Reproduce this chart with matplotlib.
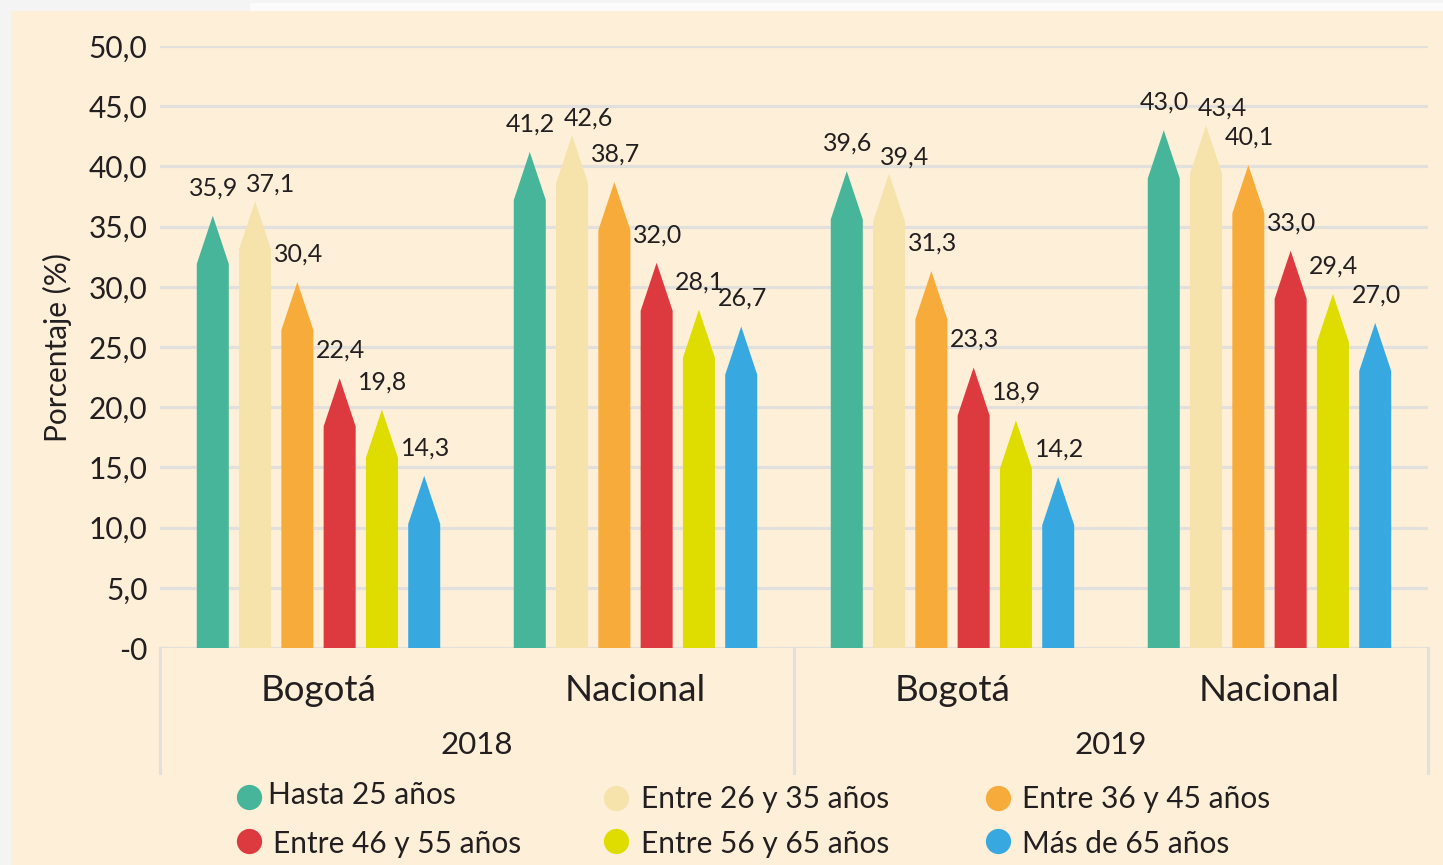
import matplotlib
matplotlib.use("Agg")
import matplotlib.pyplot as plt
from matplotlib.patches import Rectangle
import numpy as np

plt.rcParams['font.family'] = ['Lato', 'DejaVu Sans']

# ---- data ----
categories = ["Bogotá", "Nacional", "Bogotá", "Nacional"]
years = ["2018", "2019"]
series_names = ["Hasta 25 años", "Entre 26 y 35 años", "Entre 36 y 45 años",
                "Entre 46 y 55 años", "Entre 56 y 65 años", "Más de 65 años"]
hasta25 = [35.9, 41.2, 39.6, 43.0]
e26_35 = [37.1, 42.6, 39.4, 43.4]
e36_45 = [30.4, 38.7, 31.3, 40.1]
e46_55 = [22.4, 32.0, 23.3, 33.0]
e56_65 = [19.8, 28.1, 18.9, 29.4]
mas65 = [14.3, 26.7, 14.2, 27.0]
series = [hasta25, e26_35, e36_45, e46_55, e56_65, mas65]
yticks = [0, 5, 10, 15, 20, 25, 30, 35, 40, 45, 50]
ytick_labels = ["-0", "5,0", "10,0", "15,0", "20,0", "25,0", "30,0", "35,0",
                "40,0", "45,0", "50,0"]

colors = ["#46B59A", "#F5E3AB", "#F7AB3A", "#DC3A3F", "#DFDC00", "#38A9E0"]
TXT = "#231F20"
GRID = "#E2E0DD"
W, H = 1443, 865

fig = plt.figure(figsize=(W / 100, H / 100), dpi=100, facecolor="#F4F4F4")

# background overlay in pixel coordinates
bg = fig.add_axes([0, 0, 1, 1], zorder=0)
bg.set_xlim(0, W)
bg.set_ylim(H, 0)
bg.axis("off")
bg.add_patch(Rectangle((250, 3), W - 250, 10, facecolor="#FBFBFB", edgecolor="none"))
bg.add_patch(Rectangle((11, 11), W - 11, H - 11, facecolor="#FEEFD8", edgecolor="none"))

# main axes
ax = fig.add_axes([160 / W, (H - 648) / H, 1268 / W, 602 / H], zorder=1)
ax.set_facecolor("none")
ax.set_xlim(-0.5, 3.5)
ax.set_ylim(0, 50)
for s in ax.spines.values():
    s.set_visible(False)
ax.set_yticks(yticks)
ax.set_yticklabels(ytick_labels, fontsize=21.5, color=TXT)
ax.tick_params(axis="y", length=0, pad=9)
ax.set_xticks([])
for t in yticks:
    ax.axhline(t, color=GRID, lw=2.3, zorder=0.5)

xs = np.arange(len(categories))
bw = 0.101
step = 0.1334
tip = 4.0
for i, vals in enumerate(series):
    off = (i - 2.5) * step
    for j, v in enumerate(vals):
        x = xs[j] + off
        ax.fill([x - bw / 2, x - bw / 2, x, x + bw / 2, x + bw / 2],
                [0, v - tip, v, v - tip, 0],
                color=colors[i], zorder=2, linewidth=0)
        lbl = f"{v:.1f}".replace(".", ",")
        dx, dy = (16, 17) if i == 1 else (1, 28)
        ax.annotate(lbl, (x, v), xytext=(dx, dy), textcoords="offset pixels",
                    ha="center", va="center", fontsize=18, color=TXT, zorder=3)

# category / year structure under axis
for xv in [-0.5, 1.5, 3.5]:
    ax.plot([xv, xv], [0, -0.2076], transform=ax.get_xaxis_transform(),
            color=GRID, lw=2.3, clip_on=False, zorder=0.5)
for j, c in enumerate(categories):
    ax.text(xs[j], -0.0698, c, transform=ax.get_xaxis_transform(),
            ha="center", va="center", fontsize=26.5, color=TXT)
for k, yname in enumerate(years):
    ax.text(0.5 + 2 * k, -0.161, yname, transform=ax.get_xaxis_transform(),
            ha="center", va="center", fontsize=22.5, color=TXT)

# y label
bg.text(57, 347, "Porcentaje (%)", rotation=90, ha="center", va="center",
        fontsize=21.5, color=TXT)

# legend
leg_pos = [(249, 797, 268, 795), (616, 798, 641, 799), (998, 798, 1022, 799),
           (249, 841, 273, 844), (616, 841, 641, 844), (998, 841, 1022, 844)]
for i, name in enumerate(series_names):
    cx, cy, tx, ty = leg_pos[i]
    bg.scatter([cx], [cy], s=330, color=colors[i], linewidths=0, zorder=3)
    bg.text(tx, ty, name, ha="left", va="center", fontsize=21.5, color=TXT)

fig.savefig("out.png", dpi=100, facecolor=fig.get_facecolor())
